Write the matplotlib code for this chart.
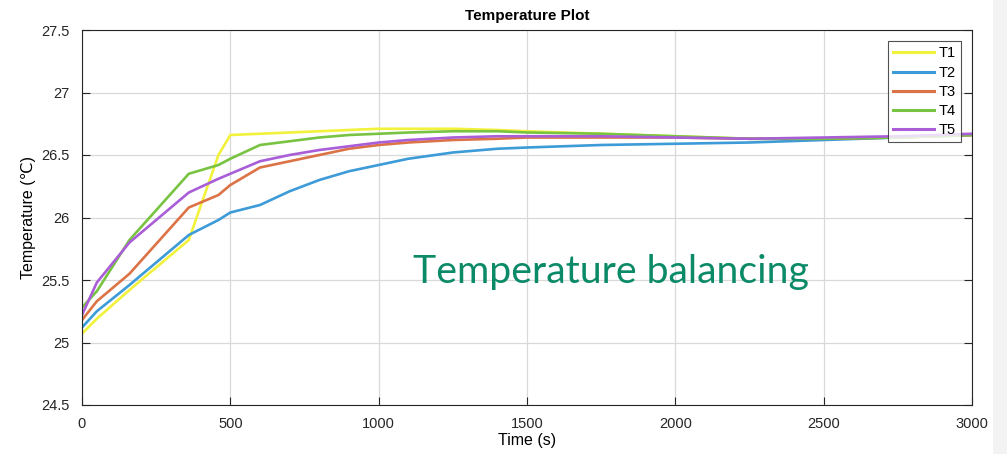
import matplotlib.pyplot as plt
from matplotlib.patches import Rectangle

# time samples (s) and sensor readings (deg C)
time_s = [0, 50, 160, 360, 460, 500, 600, 700, 800, 900, 1000, 1100, 1250, 1400,
          1500, 1750, 2000, 2250, 2500, 2750, 3000]
t1 = [25.07, 25.19, 25.42, 25.82, 26.50, 26.66, 26.67, 26.68, 26.69, 26.70, 26.71, 26.71,
      26.71, 26.70, 26.69, 26.67, 26.65, 26.63, 26.63, 26.64, 26.66]
t2 = [25.12, 25.25, 25.46, 25.86, 25.98, 26.04, 26.10, 26.21, 26.30, 26.37, 26.42, 26.47,
      26.52, 26.55, 26.56, 26.58, 26.59, 26.60, 26.62, 26.64, 26.66]
t3 = [25.18, 25.33, 25.55, 26.08, 26.18, 26.26, 26.40, 26.45, 26.50, 26.55, 26.58, 26.60,
      26.62, 26.63, 26.64, 26.64, 26.64, 26.63, 26.63, 26.64, 26.66]
t4 = [25.28, 25.41, 25.82, 26.35, 26.42, 26.47, 26.58, 26.61, 26.64, 26.66, 26.67, 26.68,
      26.69, 26.69, 26.68, 26.67, 26.65, 26.63, 26.63, 26.64, 26.66]
t5 = [25.22, 25.48, 25.80, 26.20, 26.31, 26.35, 26.45, 26.50, 26.54, 26.57, 26.60, 26.62,
      26.64, 26.65, 26.65, 26.65, 26.64, 26.63, 26.64, 26.65, 26.67]

series = [t1, t2, t3, t4, t5]
names = ["T1", "T2", "T3", "T4", "T5"]
colors = ["#f2f23c", "#3d9bd8", "#dc7346", "#78c442", "#a95ed8"]

x_ticks = [0, 500, 1000, 1500, 2000, 2500, 3000]
y_ticks = [24.5, 25, 25.5, 26, 26.5, 27, 27.5]
y_ticklabels = ["24.5", "25", "25.5", "26", "26.5", "27", "27.5"]

plt.rcParams["font.family"] = ["Liberation Sans", "DejaVu Sans"]

fig = plt.figure(figsize=(10.07, 4.54), dpi=100)
fig.patches.append(Rectangle((993 / 1007, 0), 14 / 1007, 1, transform=fig.transFigure,
                             facecolor="#f3f3f3", edgecolor="none", zorder=-1))
ax = fig.add_axes([82 / 1007, 49 / 454, 890 / 1007, 375 / 454])

for vals, name, col in zip(series, names, colors):
    ax.plot(time_s, vals, color=col, lw=1.9, label=name)

ax.set_xlim(0, 3000)
ax.set_ylim(24.5, 27.5)
ax.set_xticks(x_ticks)
ax.set_yticks(y_ticks)
ax.set_xticklabels([str(v) for v in x_ticks])
ax.set_yticklabels(y_ticklabels)
ax.grid(True, color="#d9d9d9", lw=0.9)
ax.tick_params(direction="in", length=6, width=0.8, labelsize=10.5, colors="#262626",
               right=True, top=False)
ax.tick_params(axis="x", pad=9)
ax.tick_params(axis="y", pad=9)
for sp in ax.spines.values():
    sp.set_color("#262626")
    sp.set_linewidth(0.8)

ax.set_title("Temperature Plot", fontsize=11, fontweight="bold", pad=7)
ax.set_xlabel("Time (s)", fontsize=11.5, labelpad=1)
ax.set_ylabel("Temperature (\u2103)", fontsize=11.5, labelpad=4)

leg = ax.legend(loc="upper right", bbox_to_anchor=(0.9875, 0.97), fontsize=10.5,
                frameon=True, fancybox=False, handlelength=2.8, handletextpad=0.3,
                labelspacing=0.36, borderpad=0.35, borderaxespad=0)
leg.get_frame().set_edgecolor("#262626")
leg.get_frame().set_linewidth(0.8)
for h in leg.get_lines():
    h.set_linewidth(2.2)

ax.text(0.372, 0.325, "Temperature balancing", transform=ax.transAxes,
        fontsize=28.3, color="#0b8a68", va="baseline", family=["Lato", "DejaVu Sans"])

fig.savefig("out.png", dpi=100)
